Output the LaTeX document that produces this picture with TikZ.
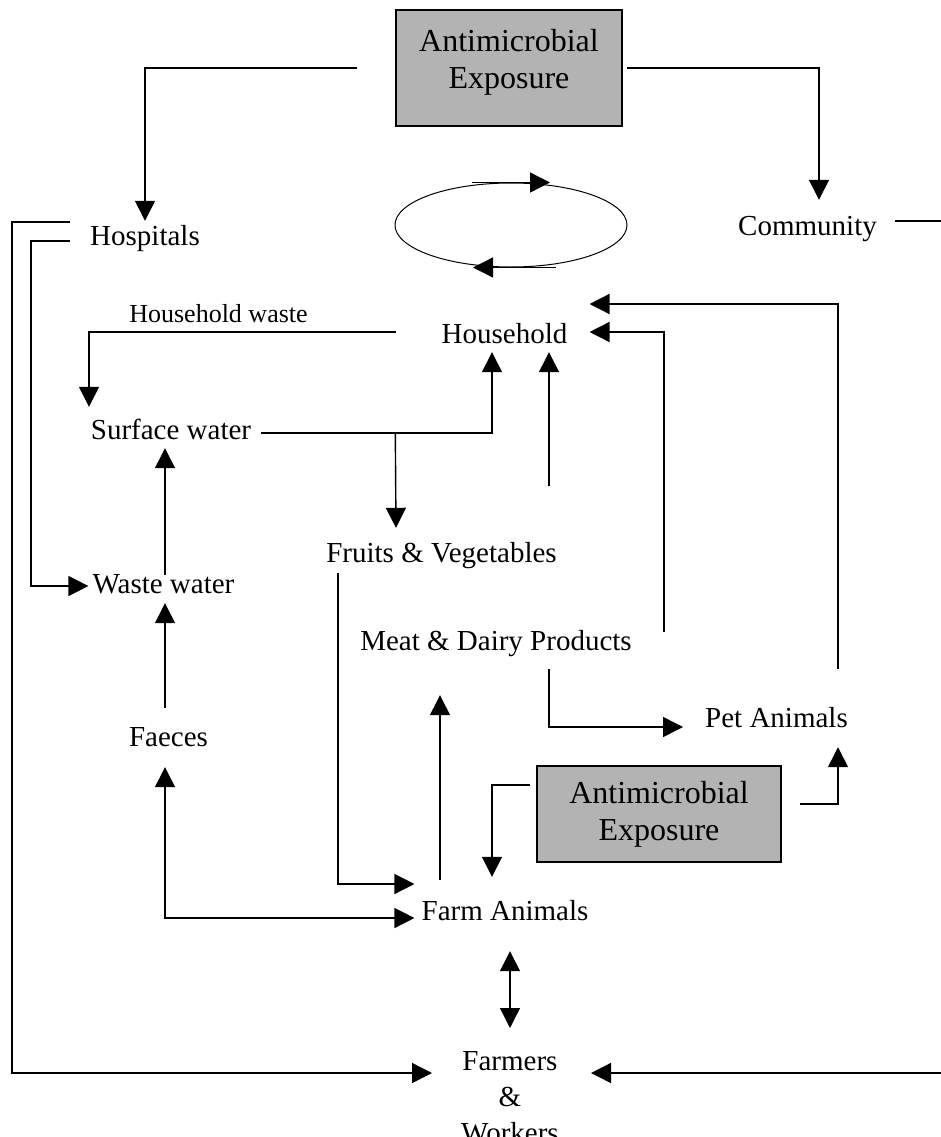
\documentclass[tikz,border=0pt]{standalone}
\usepackage{fontspec}
\setmainfont{Liberation Serif}
\usetikzlibrary{arrows.meta,shapes.geometric}
\definecolor{boxgray}{RGB}{179,179,179}
\tikzset{
  lbl/.style={inner sep=0pt, anchor=base, font=\fontsize{29}{35}\selectfont, text height=20pt, text depth=6pt},
  smalllbl/.style={inner sep=0pt, anchor=base, font=\fontsize{26}{31}\selectfont},
  arr/.style={line width=1.4pt, -{Triangle[length=20pt,width=20pt]}},
  darr/.style={line width=1.4pt, {Triangle[length=20pt,width=20pt]}-{Triangle[length=20pt,width=20pt]}},
  abox/.style={draw, line width=1.5pt, fill=boxgray, rectangle, inner sep=0pt},
  boxtxt/.style={inner sep=0pt, align=center, font=\fontsize{32}{37}\selectfont},
}
\begin{document}
\begin{tikzpicture}[x=1pt,y=-1pt]
\useasboundingbox (0,0) rectangle (941,1137);
% boxes
\node[abox, minimum width=226pt, minimum height=116pt] (ae1) at (509,68) {};
\node[boxtxt, anchor=north] (ae1t) at (509,29) {Antimicrobial\\Exposure};
\node[abox, boxtxt, minimum width=244pt, minimum height=96pt] (ae2) at (659,814) {Antimicrobial\\Exposure};
% ellipse cycle
\node[draw, ellipse, minimum width=232pt, minimum height=84pt, line width=1pt, inner sep=0pt] (cyc) at (511,225) {};
% labels
\node[lbl] (hosp) at (145,245) {Hospitals};
\node[lbl] (comm) at (807.5,235) {Community};
\node[lbl] (house) at (504.5,343) {Household};
\node[smalllbl] (hwaste) at (218.5,322) {Household waste};
\node[lbl] (surf) at (171,439) {Surface water};
\node[lbl] (fruit) at (441.5,562) {Fruits \& Vegetables};
\node[lbl] (waste) at (163.5,593) {Waste water};
\node[lbl] (meat) at (496,650) {Meat \& Dairy Products};
\node[lbl] (faeces) at (168.5,746) {Faeces};
\node[lbl] (pet) at (776.5,727) {Pet Animals};
\node[lbl] (farm) at (505,920) {Farm Animals};
\node[inner sep=0pt, anchor=north, align=center, font=\fontsize{29}{36}\selectfont] (farmers) at (510,1051) {Farmers\\\&\\Workers};
% cycle arrows
\draw[line width=1.3pt, -{Triangle[length=20pt,width=20pt]}] ([xshift=-39pt]cyc.north) -- ([xshift=39pt]cyc.north);
\draw[line width=1.3pt, -{Triangle[length=20pt,width=20pt]}] ([xshift=45pt]cyc.south) -- ([xshift=-38pt]cyc.south);
% top exposure
\draw[arr] ([xshift=-38pt]ae1.west) -| ([yshift=4pt]hosp.north);
\draw[arr] ([xshift=4pt]ae1.east) -| ([xshift=11.5pt,yshift=15pt]comm.north);
% community to farmers
\draw[arr] ([xshift=18pt,yshift=7pt]comm.east) -- (942,221) |- ([xshift=81pt,yshift=-22pt]farmers.north);
% hospitals
\draw[arr] ([xshift=-20pt,yshift=16pt]hosp.west) -- (12,222) |- ([xshift=-78pt,yshift=-22pt]farmers.north);
\draw[arr] ([xshift=-20pt,yshift=-3pt]hosp.west) -- (31,241) |- ([xshift=-4pt]waste.west);
% household waste
\draw[arr] ([xshift=-45pt,yshift=4pt]house.west) -| ([xshift=-82pt,yshift=12pt]surf.north);
% surface water
\draw[arr] ([xshift=10pt,yshift=-1pt]surf.east) -| ([xshift=-12.5pt,yshift=-3pt]house.south);
\draw[arr] ([xshift=144pt,yshift=-1pt]surf.east) -- ([xshift=-45.5pt,yshift=14pt]fruit.north);
% fruits
\draw[arr] ([xshift=107.5pt,yshift=56pt]fruit.north) -- ([xshift=44.5pt,yshift=-3pt]house.south);
\draw[arr] ([xshift=-103.5pt,yshift=-5pt]fruit.south) |- ([xshift=-7pt,yshift=29pt]farm.west);
% waste chain
\draw[arr] ([xshift=1.5pt,yshift=-2pt]waste.north) -- ([xshift=-6pt,yshift=-3pt]surf.south);
\draw[arr] ([xshift=-3.5pt,yshift=18pt]faeces.north) -- ([xshift=1.5pt,yshift=-4pt]waste.south);
\draw[darr] ([xshift=-7pt,yshift=-5pt]farm.west) -| ([xshift=-3.5pt,yshift=-15pt]faeces.south);
% farm animals
\draw[arr] ([xshift=-65pt,yshift=20pt]farm.north) -- ([xshift=-56pt,yshift=-39pt]meat.south);
\draw[darr] ([xshift=5pt,yshift=-25pt]farm.south) -- ([yshift=23pt]farmers.north);
% meat
\draw[arr] ([xshift=32pt,yshift=11pt]meat.east) |- ([xshift=22pt,yshift=4pt]house.east);
\draw[arr] ([xshift=53pt,yshift=-13pt]meat.south) |- ([xshift=-22pt,yshift=-7pt]pet.west);
% pet
\draw[arr] ([xshift=61.5pt,yshift=38pt]pet.north) |- ([xshift=22pt,yshift=32pt]house.east);
% bottom exposure
\draw[arr] ([xshift=-6pt,yshift=29pt]ae2.west) -| ([xshift=-13pt,yshift=23pt]farm.north);
\draw[arr] ([xshift=18pt,yshift=10pt]ae2.east) -| ([xshift=61.5pt,yshift=-14pt]pet.south);
\end{tikzpicture}
\end{document}
